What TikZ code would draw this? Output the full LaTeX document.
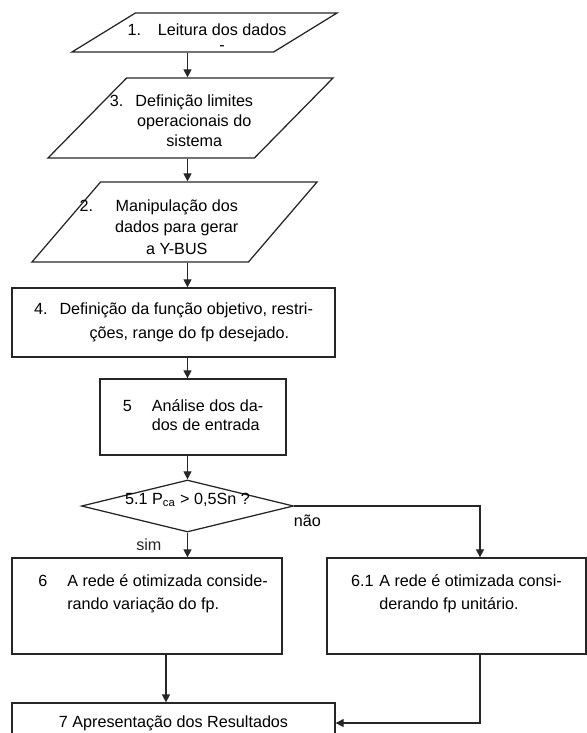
\documentclass[tikz,border=0pt]{standalone}
\usepackage{fontspec}
\setmainfont{Liberation Sans}
\usetikzlibrary{shapes.geometric,arrows.meta,positioning}

\newcommand{\fsz}{\fontsize{11.5}{14}\selectfont}

\begin{document}
\begin{tikzpicture}[
  x=0.025cm, y=-0.025cm,
  data/.style={trapezium, trapezium stretches body, draw=black!85, line width=0.9pt, inner sep=0pt, text depth=0pt},
  box/.style={rectangle, draw=black!85, line width=0.9pt, inner sep=0pt, font=\fsz},
  decision/.style={diamond, aspect=4, draw=black!85, line width=0.9pt, inner sep=0pt, minimum width=5.3cm, minimum height=1.3cm, font=\fsz},
  txt/.style={font=\fsz, inner sep=0pt},
  lbl/.style={font=\fsz, inner sep=1pt},
  arrow/.style={-{Triangle[length=2mm,width=2mm]}, line width=0.9pt, black!85}
]
\useasboundingbox (0,0) rectangle (587,733);
\clip (0,0) rectangle (587,733);

% Dados de entrada
\node[data, trapezium left angle=31.6, trapezium right angle=148.4, minimum width=6.625cm, text height=0.975cm] (leitura) at (204.5,32.5) {};
\node[txt] (leitura-txt) at (207,39) {\begin{tabular}{@{}l@{\hspace{0.42cm}}c@{}}1. & Leitura dos dados\\[-3.4pt] & -\end{tabular}};

\node[data, trapezium left angle=45.5, trapezium right angle=134.5, minimum width=7.125cm, text height=2cm] (limites) at (190.5,118) {};
\node[txt] (limites-txt) at (181.5,122.5) {\begin{tabular}{@{}l@{\hspace{0.3cm}}c@{}}3. & Definição limites\\ & operacionais do\\ & sistema\end{tabular}};

\node[data, trapezium left angle=49.4, trapezium right angle=130.6, minimum width=7.125cm, text height=2cm] (ybus) at (174.5,222) {};
\node[txt] (ybus-txt) at (159,229) {\begin{tabular}{@{}l@{\hspace{0.55cm}}c@{}}2. & Manipulação dos\\[1pt] & dados para gerar\\[1pt] & a Y-BUS\end{tabular}};

% Processamento
\node[box, minimum width=8.075cm, minimum height=1.725cm] (objetivo) at (173.5,322.5) {\begin{tabular}{@{}l@{\hspace{0.3cm}}l@{}}4. & Definição da função objetivo, restri-\\[3pt] & \hspace*{0.75cm}ções, range do fp desejado.\end{tabular}};
\node[box, minimum width=4.65cm, minimum height=1.9cm] (analise) at (193,417) {\begin{tabular}{@{}l@{\hspace{0.5cm}}l@{}}5 & Análise dos da-\\ & dos de entrada\end{tabular}};
\node[decision] (fp) at (187.5,506) {\raisebox{0.15cm}[\height][\depth]{5.1 P\textsubscript{ca} > 0,5Sn ?}};

\node[box, minimum width=6.75cm, minimum height=2.4cm] (variacao) at (147,606) {\begin{tabular}{@{\hspace{0.3cm}}l@{\hspace{0.5cm}}l@{}}6 & A rede é otimizada conside-\\[3pt] & rando variação do fp.\\[3pt] & \end{tabular}};
\node[box, minimum width=6.475cm, minimum height=2.4cm] (unitario) at (456.5,606) {\begin{tabular}{@{}l@{\hspace{0.14cm}}l@{}}6.1 & A rede é otimizada consi-\\[3pt] & derando fp unitário.\\[3pt] & \end{tabular}};
\node[box, minimum width=8.075cm, minimum height=1cm] (resultados) at (173.5,723) {7 Apresentação dos Resultados};

% Fluxo
\draw[arrow] (leitura.south -| fp) -- (limites.north -| fp);
\draw[arrow] (limites.south -| fp) -- (ybus.north -| fp);
\draw[arrow] (ybus.south -| fp) -- (objetivo.north -| fp);
\draw[arrow] (objetivo.south -| fp) -- (analise.north -| fp);
\draw[arrow] (analise.south -| fp) -- (fp.north);

% Decisao
\coordinate (c61n) at ([xshift=0.5875cm]unitario.north);
\coordinate (c61s) at ([xshift=0.5875cm]unitario.south);
\coordinate (c6s) at ([xshift=0.475cm]variacao.south);
\draw[arrow] (fp.south) -- node[lbl, left=0.6cm] (sim) {sim} (variacao.north -| fp);
\draw[arrow] (fp.east) -| (c61n);
\node[lbl, below right=0.17cm and -0.05cm of fp.east] (nao) {não};

\draw[arrow] (c6s) -- (c6s |- resultados.north);
\draw[arrow] (c61s) |- (resultados.east);

\end{tikzpicture}
\end{document}
